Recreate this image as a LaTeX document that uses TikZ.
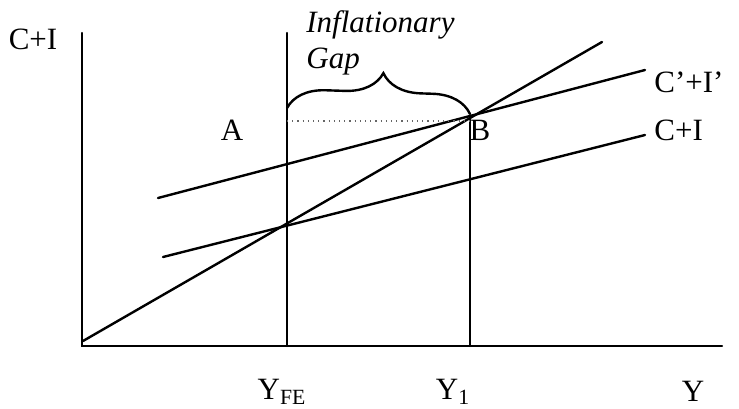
\documentclass[tikz,border=0pt]{standalone}
\usepackage{fontspec}
\setmainfont{Liberation Serif}
\usetikzlibrary{decorations.pathreplacing,positioning}

\begin{document}
\begin{tikzpicture}[
  x=0.5pt, y=-0.5pt,
  line/.style={line width=1.2pt, line cap=round},
  guide/.style={line width=0.6pt, dotted, black!60},
  lbl/.style={font=\fontsize{15.5}{18}\selectfont, inner sep=0pt},
  gaplbl/.style={font=\fontsize{15.5}{18}\selectfont\itshape, inner sep=0pt, anchor=base west}
]
\useasboundingbox (0,0) rectangle (739,408);

% points of the diagram
\coordinate (O) at (82,346);
\coordinate (ytop) at (82,33);
\coordinate (xend) at (722,346);
\coordinate (fetop) at (287,33);
\coordinate (febot) at (287,346);
\coordinate (B) at (470,118);
\coordinate (y1bot) at (470,346);
\coordinate (ds) at (83,341);
\coordinate (de) at (602,42);
\coordinate (cis) at (158,198);
\coordinate (cie) at (645,70);
\coordinate (cs) at (163,257);
\coordinate (ce) at (645,135);
\coordinate (dotl) at (287,121);
\coordinate (dotr) at (470,121);
\coordinate (brl) at (287,108);
\coordinate (brr) at (470,114);

% axes and lines
\draw[line] (ytop) -- (O) -- (xend);
\draw[line] (fetop) -- (febot);
\draw[line] (B) -- (y1bot);
\draw[line] (ds) -- (de);
\draw[line] (cis) -- (cie);
\draw[line] (cs) -- (ce);
\draw[guide] (dotl) -- (dotr);
\draw[line, decorate, decoration={brace, amplitude=19pt, aspect=0.52}] (brl) -- (brr);

% labels
\node[lbl] (ci) at (33,39) {C+I};
\node[gaplbl] (infl) at (306,32) {Inflationary};
\node[gaplbl] (gap) at (306,68) {Gap};
\node[lbl] (a) at (232,130) {A};
\node[lbl] (b) at (480,130) {B};
\node[lbl, anchor=west] (cil) at (654,82) {C’+I’};
\node[lbl, anchor=west] (cl) at (654,130) {C+I};
\node[lbl] (yfe) at (282,392) {Y\textsubscript{FE}};
\node[lbl] (y1) at (453,392) {Y\textsubscript{1}};
\node[lbl] (y) at (693,391) {Y};

\end{tikzpicture}
\end{document}
